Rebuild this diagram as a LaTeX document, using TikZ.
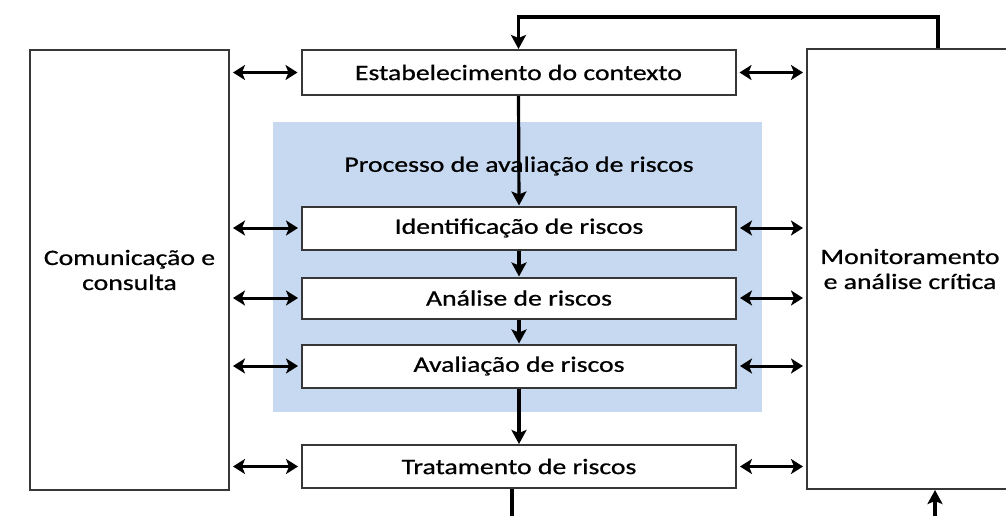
\documentclass[tikz,border=0pt]{standalone}
\usepackage{fontspec}
\usepackage{graphicx}
\setmainfont{Carlito}
\newfontfamily\semib{Carlito}[FakeBold=0.7]
\usetikzlibrary{arrows.meta}
\definecolor{procblue}{RGB}{198,217,241}
\definecolor{boxline}{RGB}{55,55,55}
\newcommand{\wide}[1]{\scalebox{1.26}[1]{#1}}
\begin{document}
\begin{tikzpicture}[x=1pt,y=-1pt,
  box/.style={draw=boxline,line width=2pt,fill=white,inner sep=0pt,font=\semib\fontsize{22}{25}\selectfont},
  stepbox/.style={box,minimum width=434pt,minimum height=43pt},
  sidebox/.style={box,minimum height=440pt,align=center,font=\semib\fontsize{22}{25}\selectfont},
  flow/.style={line width=3.2pt,-{Stealth[length=14pt,width=15pt,inset=3pt]}},
  plain/.style={line width=3.2pt},
  dbl/.style={line width=3pt,{Stealth[length=12pt,width=15pt,inset=3pt]}-{Stealth[length=12pt,width=15pt,inset=3pt]},shorten <=3pt,shorten >=3pt}]
\useasboundingbox (0,0) rectangle (1006,515);
\fill[white] (0,0) rectangle (1006,515);
% process region
\fill[procblue] (273,122) rectangle (762,412);
\node[font=\semib\fontsize{22}{25}\selectfont] (proc) at (519,166) {\wide{Processo de avaliação de riscos}};
% side boxes
\node[sidebox,minimum width=199pt] (com) at (129.5,270) {\wide{Comunicação e}\\\wide{consulta}};
\node[sidebox,minimum width=206pt] (mon) at (910,269) {\wide{Monitoramento}\\\wide{e análise crítica}};
% steps
\node[stepbox,minimum height=45pt] (est) at (518.5,72.5) {\wide{Estabelecimento do contexto}};
\node[stepbox] (idf) at (519,228) {\wide{Identificação de riscos}};
\node[stepbox,minimum height=41pt] (ana) at (519,298) {\wide{Análise de riscos}};
\node[stepbox] (ava) at (519,366) {\wide{Avaliação de riscos}};
\node[stepbox] (tra) at (519,466.5) {\wide{Tratamento de riscos}};
% coordinates for free ends
\coordinate (fbtop) at (938,17);
\coordinate (botL) at (512,516);
\coordinate (botR) at (935,516);
% vertical flow
\draw[flow] (est.south) -- (idf.north);
\draw[flow] (idf.south) -- (ana.north);
\draw[flow] (ana.south) -- (ava.north);
\draw[flow] (ava.south) -- (tra.north);
\draw[plain] (tra.south -| botL) -- (botL);
\draw[flow] (botR) -- (mon.south -| botR);
% feedback loop
\draw[flow] (mon.north -| fbtop) -- (fbtop) -| (est.north);
% double arrows
\foreach \n in {est,idf,ana,ava,tra}{
  \draw[dbl] (\n.west -| com.east) -- (\n.west);
  \draw[dbl] (\n.east) -- (\n.east -| mon.west);
}
\end{tikzpicture}
\end{document}
